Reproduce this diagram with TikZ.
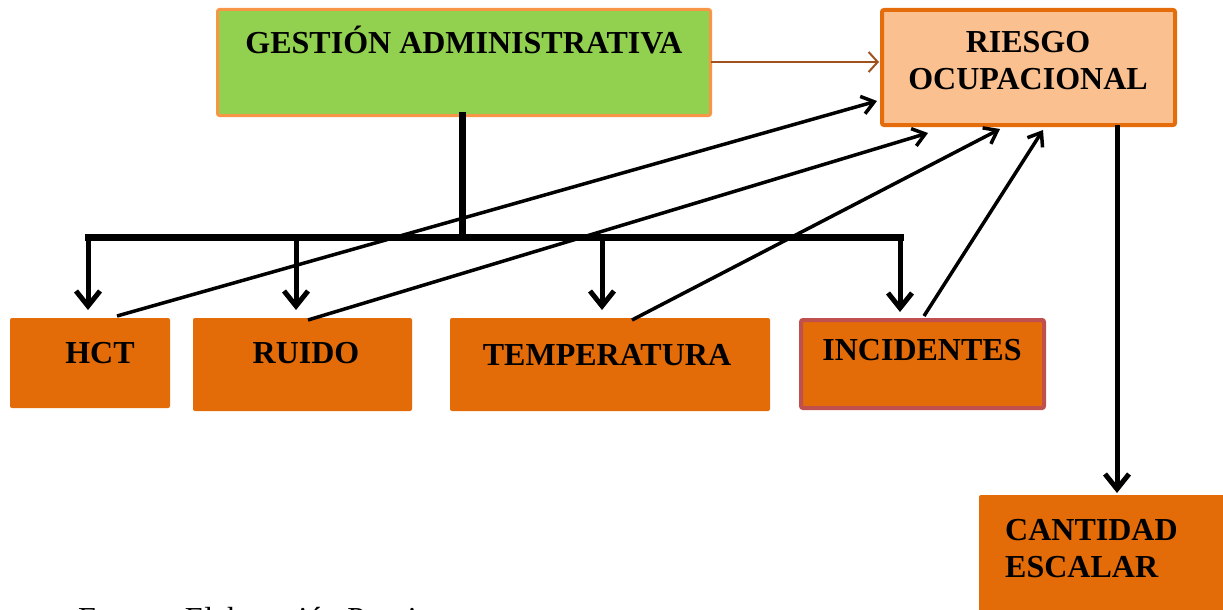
\documentclass[tikz,border=0pt]{standalone}
\usepackage{fontspec}
\setmainfont{Liberation Serif}
\usetikzlibrary{arrows.meta,calc}
\definecolor{gfill}{HTML}{92D050}
\definecolor{gline}{HTML}{F79646}
\definecolor{rfill}{HTML}{FAC090}
\definecolor{rline}{HTML}{E46C0A}
\definecolor{ofill}{HTML}{E36C09}
\definecolor{iline}{HTML}{C0504D}
\definecolor{barrow}{HTML}{A0521E}
\begin{document}
\begin{tikzpicture}[x=1pt,y=-1pt,
  box/.style={rectangle, rounded corners=2pt, inner sep=0pt, outer sep=0pt},
  obox/.style={box, fill=ofill},
  lbl/.style={font=\fontsize{32}{37}\selectfont\bfseries, inner sep=0pt, anchor=base},
  bar/.style={line width=7pt, line cap=rect, black},
  drop/.style={line width=5pt, black, -{Straight Barb[length=15pt,width=24pt]}, shorten >=8pt},
  diag/.style={line width=3.5pt, black, -{Straight Barb[length=12pt,width=18pt]}},
  link/.style={line width=2pt, barrow, -{Straight Barb[length=9pt,width=20pt]}, shorten >=3pt}
]
\useasboundingbox (0,0) rectangle (1223,610);

% boxes
\node[box, fill=gfill, draw=gline, line width=3pt, minimum width=493pt, minimum height=106pt] (gestion) at (464,62.5) {};
\node[box, fill=rfill, draw=rline, line width=4pt, minimum width=293pt, minimum height=115pt] (riesgo) at (1028.5,67.5) {};
\node[obox, minimum width=160pt, minimum height=90pt] (hct) at (90,363) {};
\node[obox, minimum width=219pt, minimum height=93pt] (ruido) at (302.5,364.5) {};
\node[obox, minimum width=320pt, minimum height=93pt] (temp) at (610,364.5) {};
\node[obox, draw=iline, line width=4pt, minimum width=243pt, minimum height=88pt] (inc) at (922.5,364) {};
\node[obox, minimum width=261pt, minimum height=145pt] (cant) at (1109.5,567.5) {};

% texts
\node[lbl] (gestiontxt) at (464,53) {GESTIÓN ADMINISTRATIVA};
\node[lbl, align=center] (riesgotxt) at (1028,89) {RIESGO\\OCUPACIONAL};
\node[lbl] (hcttxt) at (100,363) {HCT};
\node[lbl] (ruidotxt) at (306,363) {RUIDO};
\node[lbl] (temptxt) at (607,365) {TEMPERATURA};
\node[lbl] (inctxt) at (922,360) {INCIDENTES};
\node[lbl, anchor=base west, align=left] (canttxt) at (1005,577) {CANTIDAD\\ESCALAR};
\node[font=\fontsize{32}{37}\selectfont, inner sep=0pt, anchor=base west] (fuente) at (78,629.5) {Fuente: Elaboración Propia};

% gestion -> riesgo
\draw[link] ([yshift=0.5pt]gestion.east) -- ([yshift=0.5pt]gestion.east -| riesgo.west);

% tree
\coordinate (busL) at (88,237);
\coordinate (busM) at (462,237);
\coordinate (busR) at (900,237);
\draw[bar] ([xshift=-2pt]gestion.south) -- (busM);
\draw[bar] (busL) -- (busR);
\coordinate (d2) at (296,237);
\coordinate (d3) at (602,237);
\draw[drop] (busL) -- (busL |- hct.north);
\draw[drop] (d2) -- (d2 |- ruido.north);
\draw[drop] (d3) -- (d3 |- temp.north);
\draw[drop] (busR) -- (busR |- inc.north);

% diagonals to riesgo
\draw[diag] ($(hct.north)+(27,-2)$) -- ($(riesgo.south west)+(-5,-24)$);
\draw[diag] ($(ruido.north)+(5.5,2)$) -- ($(riesgo.south west)+(46,8)$);
\draw[diag] ($(temp.north)+(22,2)$) -- ($(riesgo.south west)+(118,4)$);
\draw[diag] ($(inc.north)+(1.5,-4)$) -- ($(riesgo.south west)+(161,5)$);

% riesgo -> cantidad
\coordinate (rout) at ($(riesgo.south)+(88.5,0)$);
\draw[drop, shorten >=2pt] (rout) -- (rout |- cant.north);
\end{tikzpicture}
\end{document}
